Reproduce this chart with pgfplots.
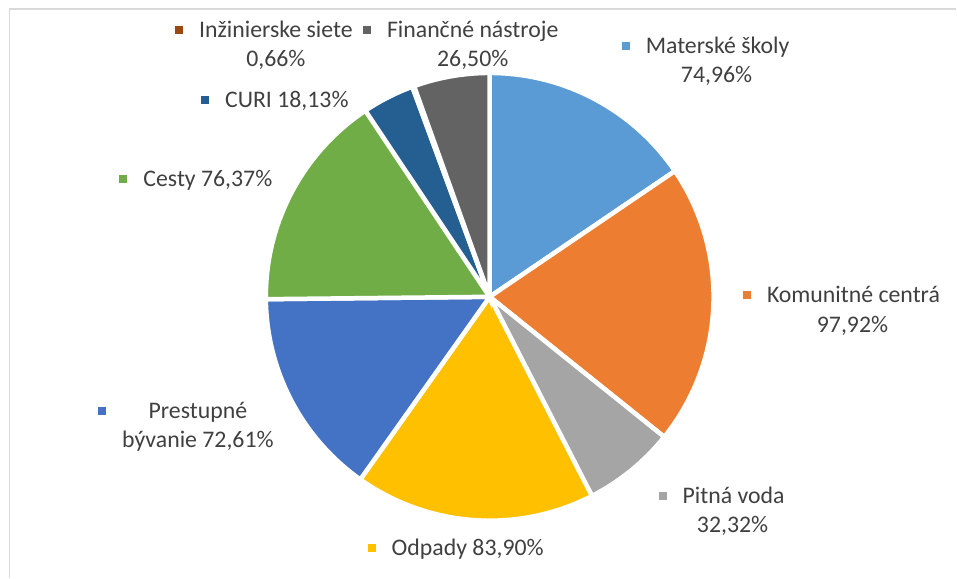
\documentclass[border=0pt]{standalone}
\usepackage{pgfplots}
\usepackage{pgfplotstable}
\usepackage{fontspec}
\setmainfont{Carlito}
\pgfplotsset{compat=1.18}

\definecolor{pie0}{HTML}{5B9BD5}
\definecolor{pie1}{HTML}{ED7D31}
\definecolor{pie2}{HTML}{A5A5A5}
\definecolor{pie3}{HTML}{FFC000}
\definecolor{pie4}{HTML}{4472C4}
\definecolor{pie5}{HTML}{70AD47}
\definecolor{pie6}{HTML}{255E91}
\definecolor{pie7}{HTML}{9E480E}
\definecolor{pie8}{HTML}{636363}
\definecolor{txt}{HTML}{404040}
\definecolor{frame}{HTML}{D9D9D9}

% clockwise from 12 o'clock
\pgfplotstableread{
id value
MaterskeSkoly 74.96
KomunitneCentra 97.92
PitnaVoda 32.32
Odpady 83.90
PrestupneByvanie 72.61
Cesty 76.37
CURI 18.13
InzinierskeSiete 0.66
FinancneNastroje 26.50
}\piedata

% cumulative angles
\xdef\total{0}
\foreach \i in {0,...,8}{
  \pgfplotstablegetelem{\i}{value}\of\piedata
  \pgfmathparse{\total+\pgfplotsretval}\xdef\total{\pgfmathresult}
}
\xdef\cum{0}
\foreach \i in {0,...,8}{
  \pgfplotstablegetelem{\i}{value}\of\piedata
  \pgfmathparse{90-360*(\cum/\total)}\expandafter\xdef\csname e\i\endcsname{\pgfmathresult}
  \pgfmathparse{\cum+\pgfplotsretval}\xdef\cum{\pgfmathresult}
  \pgfmathparse{90-360*(\cum/\total)}\expandafter\xdef\csname s\i\endcsname{\pgfmathresult}
}

\def\cx{490}
\def\cy{281}
\def\r{224}
\newcommand{\key}[2][16bp]{\llap{\textcolor{#2}{\rule[3.5bp]{8bp}{8bp}}\hspace{#1}}}

\begin{document}
\begin{tikzpicture}[lbl/.style={font=\fontsize{23.8bp}{30bp}\selectfont, text=txt, inner sep=0pt, anchor=base}]
\begin{axis}[
  width=957bp, height=578bp, scale only axis,
  xmin=0, xmax=957, ymin=0, ymax=578,
  hide axis, clip=false
]
\addplot[draw=frame, line width=1.2bp] coordinates {(9.5,0) (9.5,569) (957,569)};

\pgfplotsinvokeforeach{0,...,8}{
  \addplot[fill=pie#1, draw=white, line width=4.5bp, line join=miter,
    domain=\csname s#1\endcsname:\csname e#1\endcsname, samples=80, variable=\t]
    ({\cx+\r*cos(\t)},{\cy+\r*sin(\t)}) -- (axis cs:\cx,\cy) -- cycle;
}

\node[lbl] at (axis cs:718,524) {\key{pie0}Materské školy};
\node[lbl] at (axis cs:717,495) {74,96\%};
\node[lbl] at (axis cs:854,275) {\key{pie1}Komunitné centrá};
\node[lbl] at (axis cs:853,245) {97,92\%};
\node[lbl] at (axis cs:734,74) {\key{pie2}Pitná voda};
\node[lbl] at (axis cs:733,45) {32,32\%};
\node[lbl] at (axis cs:468,22) {\key{pie3}Odpady 83,90\%};
\node[lbl] at (axis cs:198,159) {\key[43bp]{pie4}Prestupné};
\node[lbl] at (axis cs:198,130) {bývanie 72,61\%};
\node[lbl] at (axis cs:208,391) {\key{pie5}Cesty 76,37\%};
\node[lbl] at (axis cs:287,470) {\key{pie6}CURI 18,13\%};
\node[lbl] at (axis cs:276,540) {\key{pie7}Inžinierske siete};
\node[lbl] at (axis cs:276,511) {0,66\%};
\node[lbl] at (axis cs:473,540) {\key{pie8}Finančné nástroje};
\node[lbl] at (axis cs:473,511) {26,50\%};
\end{axis}
\path (current axis.south west) rectangle (current axis.north east);
\end{tikzpicture}
\end{document}
